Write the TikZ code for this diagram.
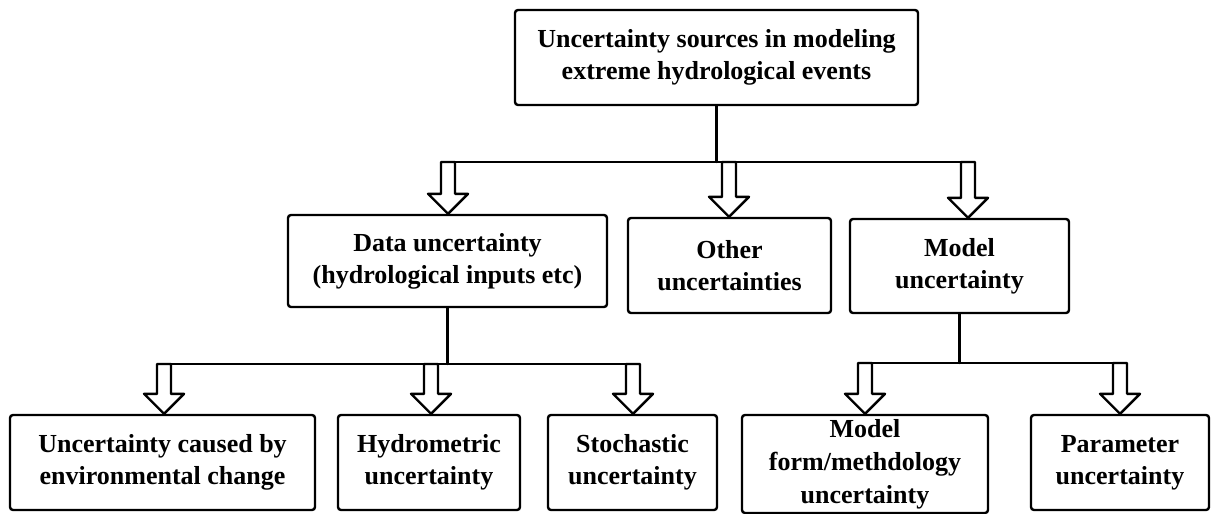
\documentclass[tikz,border=0pt]{standalone}
\usepackage{fontspec}
\setmainfont{Liberation Serif}
\usetikzlibrary{calc}

\tikzset{
  box/.style={draw, line width=1.2pt, rounded corners=1.5pt, align=center, inner sep=0pt,
    font=\fontsize{13}{16}\selectfont\bfseries},
  wire/.style={line width=1.2pt, line cap=round},
  hollow/.style={line width=1.2pt, fill=white, line join=round},
}
% hollow block arrow from a point on a bar down to a box
\newcommand{\hollowarrow}[2]{%
  \path[draw,hollow] let \p1=(#1), \p2=(#2) in
    (\x1-3.5pt,\y1) -- (\x1-3.5pt,\y2+10pt) -- (\x1-10pt,\y2+10pt) -- (\x1,\y2)
    -- (\x1+10pt,\y2+10pt) -- (\x1+3.5pt,\y2+10pt) -- (\x1+3.5pt,\y1) -- cycle;}

\begin{document}
\begin{tikzpicture}[x=0.5pt, y=-0.5pt]
\useasboundingbox (0,0) rectangle (1211,514);

\node[box, minimum width=201.5pt, minimum height=47.5pt] (top) at (716.5,57.5) {Uncertainty sources in modeling\\extreme hydrological events};
\node[box, minimum width=159.5pt, minimum height=46pt] (data) at (447.5,261) {Data uncertainty\\(hydrological inputs etc)};
\node[box, minimum width=101.5pt, minimum height=47.5pt] (other) at (729.5,265.5) {Other\\uncertainties};
\node[box, minimum width=109.5pt, minimum height=47pt] (model) at (959.5,266) {Model\\uncertainty};
\node[box, minimum width=152.5pt, minimum height=47.5pt] (env) at (162.5,462.5) {Uncertainty caused by\\environmental change};
\node[box, minimum width=91pt, minimum height=47.5pt] (hydro) at (429,462.5) {Hydrometric\\uncertainty};
\node[box, minimum width=84.5pt, minimum height=47.5pt] (stoch) at (632.5,462.5) {Stochastic\\uncertainty};
\node[box, minimum width=123pt, minimum height=49pt, font=\fontsize{13}{16.5}\selectfont\bfseries] (form) at (865,464) {Model\\form/methdology\\uncertainty};
\node[box, minimum width=89pt, minimum height=47.5pt] (param) at (1120,462.5) {Parameter\\uncertainty};

\coordinate (b1) at (448,162);
\coordinate (b2) at (729,162);
\coordinate (b3) at (968,162);
\coordinate (c1) at (164,364);
\coordinate (c2) at (431,364);
\coordinate (c3) at (633,364);
\coordinate (d1) at (865,363);
\coordinate (d2) at (1120,363);

\path[draw,wire] (top.south) -- (top.south |- b2);
\path[draw,wire] (b1) -- (b3);
\path[draw,wire] (data.south) -- (data.south |- c1);
\path[draw,wire] (c1) -- (c3);
\path[draw,wire] (model.south) -- (model.south |- d1);
\path[draw,wire] (d1) -- (d2);

\hollowarrow{b1}{data.north}
\hollowarrow{b2}{other.north}
\hollowarrow{b3}{model.north}
\hollowarrow{c1}{env.north}
\hollowarrow{c2}{hydro.north}
\hollowarrow{c3}{stoch.north}
\hollowarrow{d1}{form.north}
\hollowarrow{d2}{param.north}
\end{tikzpicture}
\end{document}
